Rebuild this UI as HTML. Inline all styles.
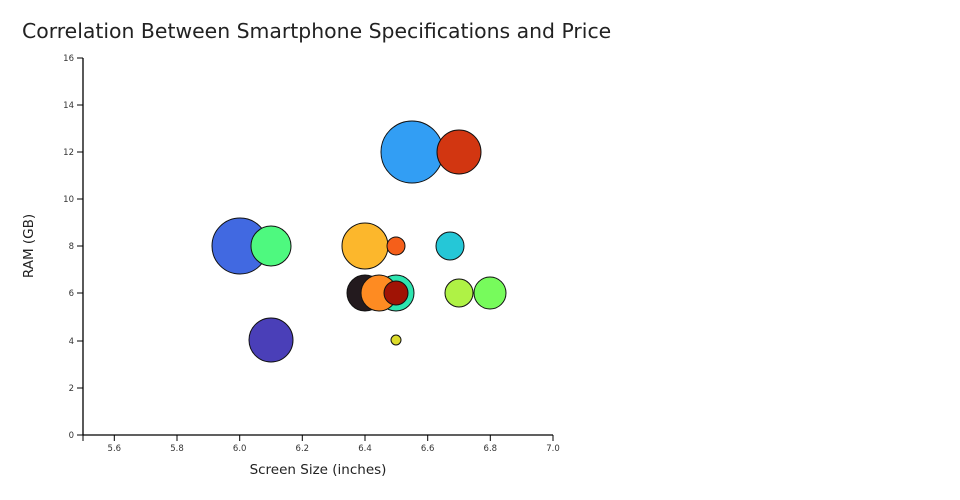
<!DOCTYPE html>
<html><head><meta charset="utf-8"><style>
body{margin:0;background:#fff;}
svg{display:block;font-family:"DejaVu Sans","Liberation Sans",sans-serif;}
</style></head><body>
<svg width="960" height="500" viewBox="0 0 960 500">
<text x="22" y="38" font-size="20.4" fill="#222">Correlation Between Smartphone Specifications and Price</text>
<g stroke="#000" stroke-width="1.3">
<line x1="83" y1="58" x2="83" y2="435"/>
<line x1="83" y1="435" x2="553" y2="435"/>
</g>
<g stroke="#000" stroke-width="1" font-size="8.5" fill="#333">
<line x1="77" y1="435" x2="83" y2="435"/><text x="74" y="438" text-anchor="end" stroke="none">0</text>
<line x1="77" y1="388" x2="83" y2="388"/><text x="74" y="391" text-anchor="end" stroke="none">2</text>
<line x1="77" y1="341" x2="83" y2="341"/><text x="74" y="344" text-anchor="end" stroke="none">4</text>
<line x1="77" y1="293" x2="83" y2="293"/><text x="74" y="296" text-anchor="end" stroke="none">6</text>
<line x1="77" y1="246" x2="83" y2="246"/><text x="74" y="249" text-anchor="end" stroke="none">8</text>
<line x1="77" y1="199" x2="83" y2="199"/><text x="74" y="202" text-anchor="end" stroke="none">10</text>
<line x1="77" y1="152" x2="83" y2="152"/><text x="74" y="155" text-anchor="end" stroke="none">12</text>
<line x1="77" y1="105" x2="83" y2="105"/><text x="74" y="108" text-anchor="end" stroke="none">14</text>
<line x1="77" y1="58" x2="83" y2="58"/><text x="74" y="61" text-anchor="end" stroke="none">16</text>
<line x1="83" y1="435" x2="83" y2="441"/>
<line x1="114.3" y1="435" x2="114.3" y2="441"/><text x="114.3" y="451" text-anchor="middle" stroke="none">5.6</text>
<line x1="177" y1="435" x2="177" y2="441"/><text x="177" y="451" text-anchor="middle" stroke="none">5.8</text>
<line x1="239.7" y1="435" x2="239.7" y2="441"/><text x="239.7" y="451" text-anchor="middle" stroke="none">6.0</text>
<line x1="302.3" y1="435" x2="302.3" y2="441"/><text x="302.3" y="451" text-anchor="middle" stroke="none">6.2</text>
<line x1="365" y1="435" x2="365" y2="441"/><text x="365" y="451" text-anchor="middle" stroke="none">6.4</text>
<line x1="427.7" y1="435" x2="427.7" y2="441"/><text x="427.7" y="451" text-anchor="middle" stroke="none">6.6</text>
<line x1="490.3" y1="435" x2="490.3" y2="441"/><text x="490.3" y="451" text-anchor="middle" stroke="none">6.8</text>
<line x1="553" y1="435" x2="553" y2="441"/><text x="553" y="451" text-anchor="middle" stroke="none">7.0</text>
</g>
<text x="318" y="474" font-size="13.5" text-anchor="middle" fill="#222">Screen Size (inches)</text>
<text transform="translate(33,246) rotate(-90)" font-size="13.5" text-anchor="middle" fill="#222">RAM (GB)</text>
<g stroke="#111" stroke-width="1">
<circle cx="412" cy="152" r="31" fill="#329ef4"/>
<circle cx="459" cy="152" r="22" fill="#d23611"/>
<circle cx="240" cy="246" r="28" fill="#4169e1"/>
<circle cx="271" cy="246" r="20" fill="#4ef97f"/>
<circle cx="365" cy="246" r="23" fill="#fcb72c"/>
<circle cx="396" cy="246" r="9" fill="#f55f1a"/>
<circle cx="450" cy="246" r="14" fill="#25c7d7"/>
<circle cx="365" cy="293" r="18" fill="#231a1e"/>
<circle cx="396" cy="293" r="18" fill="#2ee5b0"/>
<circle cx="379" cy="293" r="18" fill="#fe8b22"/>
<circle cx="396" cy="293" r="12" fill="#a01305"/>
<circle cx="459" cy="293" r="14" fill="#aff245"/>
<circle cx="490" cy="293" r="16" fill="#77fb5c"/>
<circle cx="271" cy="340" r="22" fill="#4a3fb8"/>
<circle cx="396" cy="340" r="5" fill="#dcdb2a"/>
</g>
</svg>
</body></html>
